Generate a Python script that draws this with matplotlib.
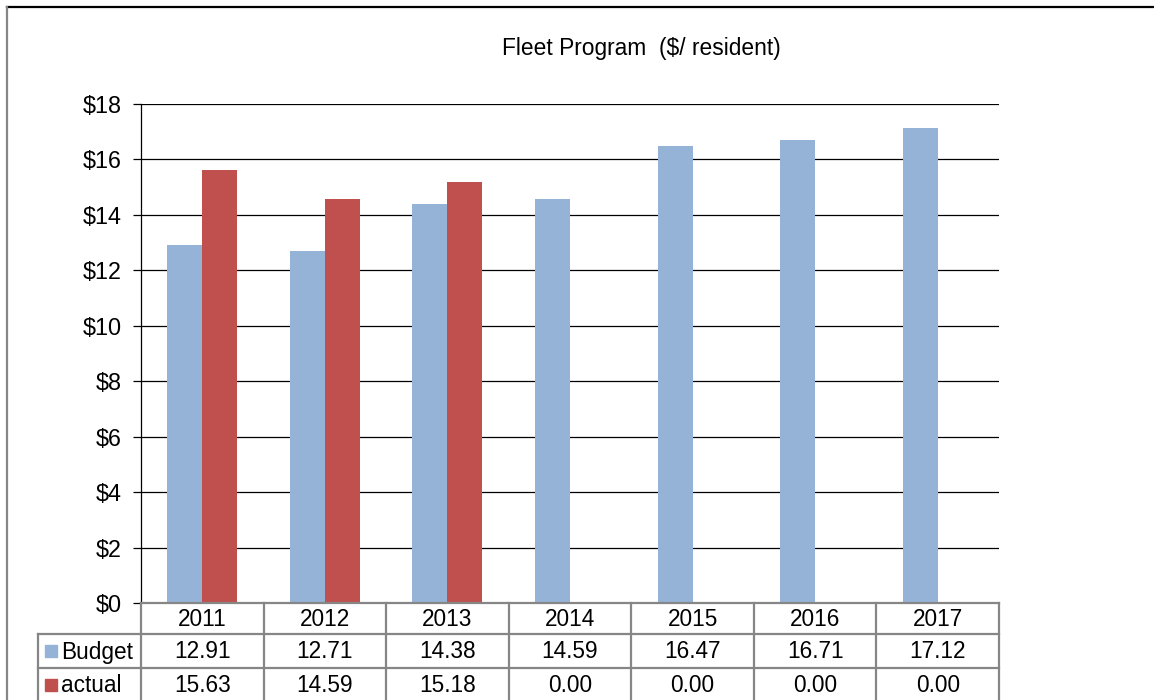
import matplotlib
matplotlib.use("Agg")
import matplotlib.pyplot as plt
import numpy as np
from matplotlib.transforms import blended_transform_factory
from matplotlib.patches import Rectangle

plt.rcParams['font.family'] = ['Liberation Sans', 'DejaVu Sans']

years = ["2011", "2012", "2013", "2014", "2015", "2016", "2017"]
budget = [12.91, 12.71, 14.38, 14.59, 16.47, 16.71, 17.12]
actual = [15.63, 14.59, 15.18, 0.00, 0.00, 0.00, 0.00]
series_names = ["Budget", "actual"]
y_ticks = [0, 2, 4, 6, 8, 10, 12, 14, 16, 18]

BLUE = "#95B3D7"
RED = "#C0504D"
GRID_GREY = "#868686"
FS = 16.3

W, H = 1154, 700
fig = plt.figure(figsize=(W / 100, H / 100), dpi=100)

# plot area in pixel terms
px_l, px_r, px_t, px_b = 141, 999, 104, 603
ax = fig.add_axes([px_l / W, (H - px_b) / H, (px_r - px_l) / W, (px_b - px_t) / H])

x = np.arange(len(years))
bw = 1 / 3.5
ax.bar(x - bw / 2, budget, width=bw, color=BLUE, zorder=3)
ax.bar(x + bw / 2, actual, width=bw, color=RED, zorder=3)

ax.set_xlim(-0.5, len(years) - 0.5)
ax.set_ylim(0, 18)
ax.set_yticks(y_ticks)
ax.set_yticklabels([f"${v}" for v in y_ticks], fontsize=16.8)
ax.set_xticks([])
ax.yaxis.grid(True, color="#000000", linewidth=0.9, zorder=1)
ax.tick_params(axis="y", length=6, width=0.9, color="#000000", pad=8)
for s in ["top", "right", "bottom"]:
    ax.spines[s].set_visible(False)
ax.spines["left"].set_color("#000000")
ax.spines["left"].set_linewidth(0.9)

# overlay in pixel coordinates for the title, frame and data table
ov = fig.add_axes([0, 0, 1, 1], zorder=5)
ov.set_xlim(0, W)
ov.set_ylim(H, 0)
ov.axis("off")
ov.patch.set_alpha(0)

# chart frame
ov.plot([7, W], [7, 7], color="#000000", lw=1.6)
ov.plot([7, 7], [7, H], color=GRID_GREY, lw=1.6)

ov.text(641, 49, "Fleet Program  ($/ resident)", ha="center", va="center", fontsize=16.4)

# data table aligned to the category axis
bt = blended_transform_factory(ax.transData, ov.transData)
row_y = [603, 634, 668, 702]
n = len(years)
lw_t = 1.6
# column separators
for i in range(n + 1):
    ov.plot([i - 0.5, i - 0.5], [row_y[0], row_y[-1]], color=GRID_GREY, lw=lw_t, transform=bt)
# horizontal lines over the value columns
for yy in row_y[:3]:
    ov.plot([-0.5, n - 0.5], [yy, yy], color=GRID_GREY, lw=lw_t, transform=bt)
# label column
lab_l = 38
ov.plot([lab_l, px_l], [row_y[1], row_y[1]], color=GRID_GREY, lw=lw_t)
ov.plot([lab_l, px_l], [row_y[2], row_y[2]], color=GRID_GREY, lw=lw_t)
ov.plot([lab_l, lab_l], [row_y[1], row_y[-1]], color=GRID_GREY, lw=lw_t)

for i, yr in enumerate(years):
    ov.text(i, (row_y[0] + row_y[1]) / 2 + 1, yr, transform=bt, ha="center", va="center", fontsize=FS)
    ov.text(i, (row_y[1] + row_y[2]) / 2 + 1, f"{budget[i]:.2f}", transform=bt, ha="center", va="center", fontsize=FS)
    ov.text(i, (row_y[2] + row_y[3]) / 2, f"{actual[i]:.2f}", transform=bt, ha="center", va="center", fontsize=FS)

for r, (name, col) in enumerate(zip(series_names, [BLUE, RED])):
    yc = (row_y[r + 1] + row_y[r + 2]) / 2
    ov.add_patch(Rectangle((45, yc - 6), 12, 12, color=col))
    ov.text(61, yc + 1, name, ha="left", va="center", fontsize=FS)

fig.savefig("out.png", dpi=100)
